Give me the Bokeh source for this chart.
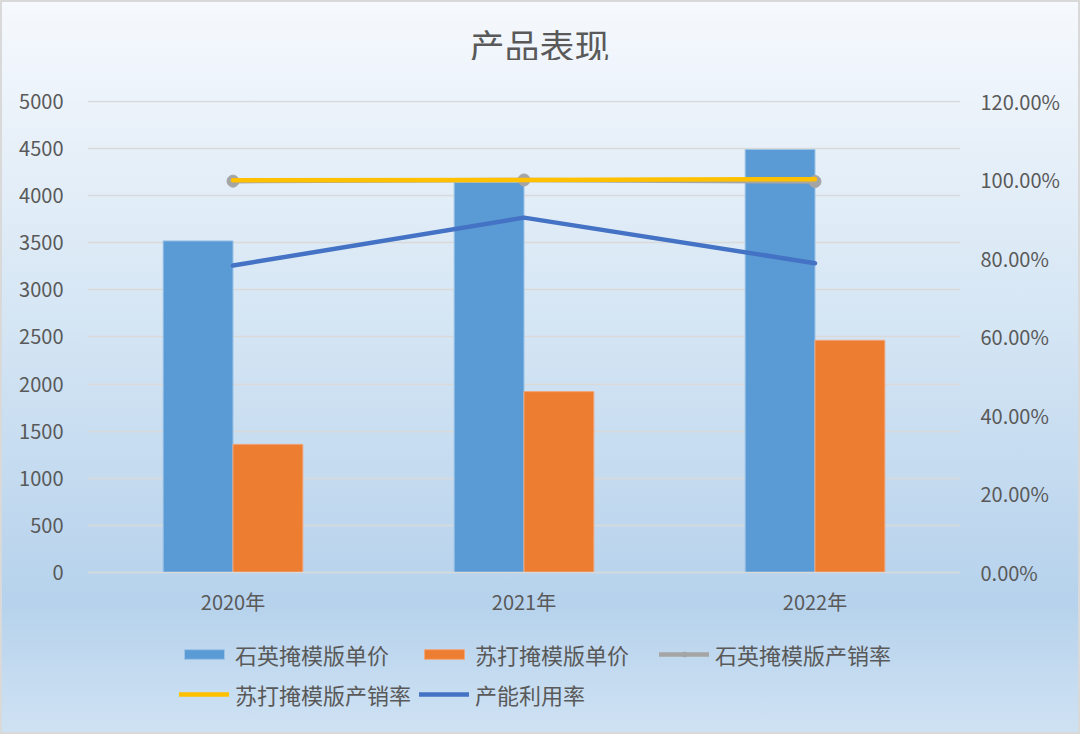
from bokeh.plotting import figure
from bokeh.layouts import column
from bokeh.models import (FactorRange, Range1d, LinearAxis, NumeralTickFormatter,
                          ColumnDataSource, Legend, LegendItem, SingleIntervalTicker,
                          FixedTicker, Label)
from bokeh.transform import dodge
from bokeh.embed import file_html
from bokeh.resources import INLINE

chart_title = "产品表现"
years = ["2020年", "2021年", "2022年"]
quartz_price = [3520, 4140, 4490]
soda_price = [1360, 1920, 2465]
quartz_rate = [0.997, 1.000, 0.996]
soda_rate = [0.999, 1.000, 1.002]
utilization = [0.782, 0.904, 0.788]
pct_ticks = [0.0, 0.2, 0.4, 0.6, 0.8, 1.0, 1.2]
series_names = ["石英掩模版单价", "苏打掩模版单价", "石英掩模版产销率", "苏打掩模版产销率", "产能利用率"]

src = ColumnDataSource(dict(year=years, qp=quartz_price, sp=soda_price,
                            qr=quartz_rate, sr=soda_rate, ut=utilization))

FONT = "Noto Sans CJK SC"
TXT = "#595959"
GRID = "#d9d9d9"
C_Q, C_S, C_QR, C_SR, C_UT = "#5b9bd5", "#ed7d31", "#a5a5a5", "#ffc000", "#4472c4"


def strip(h, fw=1080, left=0, right=0):
    f = figure(width=1080, height=h, frame_width=fw, frame_height=h,
               x_range=Range1d(0, 1), y_range=Range1d(0, 1),
               x_axis_type=None, y_axis_type=None, output_backend="svg",
               toolbar_location=None, min_border=0,
               min_border_left=left, min_border_right=right)
    f.background_fill_color = None
    f.border_fill_color = None
    f.outline_line_color = None
    f.xgrid.visible = False
    f.ygrid.visible = False
    return f


# ---- title strip (frame matches the chart's frame horizontally) ----
tt = strip(60, fw=873, left=87, right=120)
tt.add_layout(Label(x=0.5, y=16, x_units="data", y_units="screen", x_offset=15.5,
                    text=chart_title,
                    text_font=FONT, text_font_size="35px", text_color=TXT,
                    text_align="center", text_baseline="middle"))

# ---- main chart ----
p = figure(x_range=FactorRange(factors=years, range_padding=0),
           y_range=Range1d(0, 5010),
           frame_width=873, frame_height=472, output_backend="svg", toolbar_location=None,
           min_border_left=87, min_border_right=120, min_border_top=40,
           min_border_bottom=48)
p.extra_y_ranges = {"pct": Range1d(0, 1.2024)}
p.background_fill_color = None
p.border_fill_color = None
p.outline_line_color = None

p.yaxis.ticker = SingleIntervalTicker(interval=500)
for ax in [p.yaxis[0], p.xaxis[0]]:
    ax.major_tick_line_color = None
    ax.minor_tick_line_color = None
    ax.major_label_text_font = FONT
    ax.major_label_text_font_size = "20px"
    ax.major_label_text_color = TXT
p.yaxis.axis_line_color = None
p.yaxis.major_label_standoff = 18
p.xaxis.axis_line_color = GRID
p.xaxis.axis_line_width = 1.5
p.xaxis.major_label_standoff = 8

right = LinearAxis(y_range_name="pct", formatter=NumeralTickFormatter(format="0.00%"),
                   ticker=FixedTicker(ticks=pct_ticks))
right.axis_line_color = None
right.major_tick_line_color = None
right.minor_tick_line_color = None
right.major_label_text_font = FONT
right.major_label_text_font_size = "20px"
right.major_label_text_color = TXT
right.major_label_standoff = 14
p.add_layout(right, "right")

p.xgrid.grid_line_color = None
p.ygrid.grid_line_color = GRID
p.ygrid.grid_line_width = 1.5

p.vbar(x=dodge("year", -0.12, range=p.x_range), top="qp", width=0.24, source=src,
       fill_color=C_Q, line_color="#9cc2e6", line_width=1)
p.vbar(x=dodge("year", 0.12, range=p.x_range), top="sp", width=0.24, source=src,
       fill_color=C_S, line_color="#f2a57a", line_width=1)
p.line(x="year", y="qr", source=src, y_range_name="pct", line_color=C_QR,
       line_width=4.5, line_cap="round")
p.scatter(x="year", y="qr", source=src, y_range_name="pct", size=12,
          fill_color=C_QR, line_color=C_QR)
p.line(x="year", y="sr", source=src, y_range_name="pct", line_color=C_SR,
       line_width=4.5, line_cap="round")
p.line(x="year", y="ut", source=src, y_range_name="pct", line_color=C_UT,
       line_width=4.5, line_cap="round")

# ---- legend strip (same series styles; proxies hold no visible data) ----
lg = strip(114)
nan = [float("nan")]
r1 = lg.vbar(x=nan, top=nan, width=0.1, fill_color=C_Q, line_color="#9cc2e6")
r2 = lg.vbar(x=nan, top=nan, width=0.1, fill_color=C_S, line_color="#f2a57a")
r3a = lg.line(x=nan, y=nan, line_color=C_QR, line_width=4.5, line_cap="round")
r3b = lg.scatter(x=nan, y=nan, size=12, fill_color=C_QR, line_color=C_QR)
r4 = lg.line(x=nan, y=nan, line_color=C_SR, line_width=4.5, line_cap="round")
r5 = lg.line(x=nan, y=nan, line_color=C_UT, line_width=4.5, line_cap="round")

legend = Legend(items=[
    LegendItem(label=series_names[0], renderers=[r1]),
    LegendItem(label=series_names[1], renderers=[r2]),
    LegendItem(label=series_names[2], renderers=[r3a, r3b]),
    LegendItem(label=series_names[3], renderers=[r4]),
    LegendItem(label=series_names[4], renderers=[r5]),
], orientation="horizontal", ncols=3)
legend.label_text_font = FONT
legend.label_text_font_size = "22px"
legend.label_text_color = TXT
legend.glyph_width = 50
legend.glyph_height = 12
legend.label_standoff = 6
legend.label_width = 176
legend.label_height = 26
legend.spacing = 8
legend.padding = 0
legend.margin = 0
legend.border_line_color = None
legend.background_fill_color = None
legend.background_fill_alpha = 0
legend.location = (179, 24)
lg.add_layout(legend, "center")

layout = column(tt, p, lg, spacing=0)
layout.styles = {
    "background": "linear-gradient(to bottom, #f6f9fd 0%, #d4e5f4 45%, #b6d2ec 82%, #cfe2f3 100%)",
    "box-shadow": "inset 0 0 0 2px #d9d9d9",
}

open("out.html", "w").write(file_html(layout, INLINE))
